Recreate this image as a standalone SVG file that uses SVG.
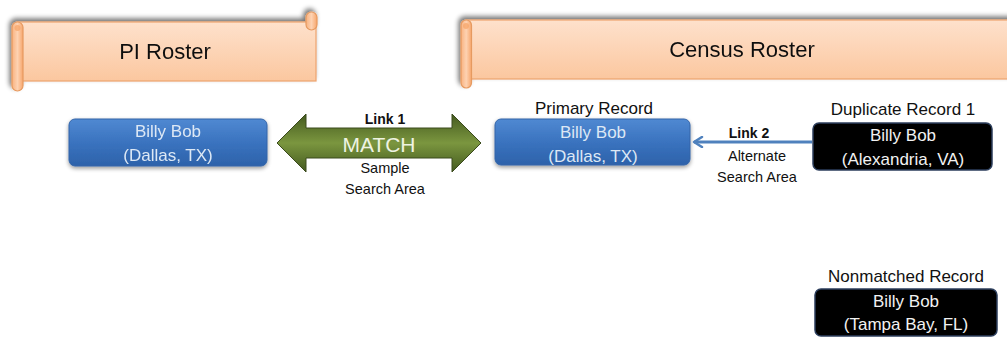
<svg xmlns="http://www.w3.org/2000/svg" width="1007" height="337" viewBox="0 0 1007 337">
<defs>
<linearGradient id="peach" x1="0" y1="0" x2="0" y2="1">
<stop offset="0" stop-color="#fee1cc"/>
<stop offset="1" stop-color="#fbc79f"/>
</linearGradient>
<linearGradient id="curl" x1="0" y1="0" x2="1" y2="0">
<stop offset="0" stop-color="#f9b27f"/>
<stop offset="0.5" stop-color="#fdd2b2"/>
<stop offset="1" stop-color="#f7a66c"/>
</linearGradient>
<linearGradient id="blue" x1="0" y1="0" x2="0" y2="1">
<stop offset="0" stop-color="#5089d2"/>
<stop offset="0.5" stop-color="#3a73bf"/>
<stop offset="1" stop-color="#2d62aa"/>
</linearGradient>
<linearGradient id="green" x1="0" y1="0" x2="0" y2="1">
<stop offset="0" stop-color="#445a1f"/>
<stop offset="0.5" stop-color="#7b963f"/>
<stop offset="1" stop-color="#445a1f"/>
</linearGradient>
<filter id="sh" x="-10%" y="-30%" width="120%" height="160%">
<feGaussianBlur in="SourceAlpha" stdDeviation="2.5"/>
<feOffset dx="-2" dy="-3" result="b"/>
<feComponentTransfer><feFuncA type="linear" slope="0.55"/></feComponentTransfer>
<feMerge><feMergeNode/><feMergeNode in="SourceGraphic"/></feMerge>
</filter>
<filter id="bs" x="-10%" y="-20%" width="120%" height="150%">
<feGaussianBlur in="SourceAlpha" stdDeviation="2"/>
<feOffset dx="0" dy="2"/>
<feComponentTransfer><feFuncA type="linear" slope="0.4"/></feComponentTransfer>
<feMerge><feMergeNode/><feMergeNode in="SourceGraphic"/></feMerge>
</filter>
<marker id="chev" viewBox="0 0 12 12" refX="10" refY="6" markerWidth="12" markerHeight="12" markerUnits="userSpaceOnUse" orient="auto">
<path d="M2,1 L10,6 L2,11" fill="none" stroke="#4f81bd" stroke-width="2.5" stroke-linecap="round" stroke-linejoin="round"/>
</marker>
</defs>
<style>
text{font-family:"Liberation Sans",Arial,sans-serif;text-anchor:middle}
.title{font-size:22px;fill:#111}
.band{fill:url(#peach);stroke:#eda46f;stroke-width:1.2}
.curl{fill:url(#curl);stroke:#e69a60;stroke-width:1.2}
.bbox{fill:url(#blue);stroke:#3465a8;stroke-width:1}
.kbox{fill:#000;stroke:#2c3e5c;stroke-width:1.5}
.bt{font-size:17px;fill:#dde8f5}
.kt{font-size:17px;fill:#f2f2f2}
.lab{font-size:17px;fill:#111}
.sm{font-size:14.5px;fill:#111}
.lk{font-size:14px;font-weight:bold;fill:#111}
</style>

<g id="pi-roster" filter="url(#sh)">
<rect class="band" x="17" y="22" width="299" height="59"/>
<rect class="curl" x="306" y="12" width="11" height="18" rx="5.5"/>
<rect class="curl" x="12" y="22" width="11" height="69" rx="5.5"/>
<circle cx="17.5" cy="28" r="3" fill="#f6a467" opacity="0.7"/>
<text class="title" x="165" y="59">PI Roster</text>
</g>

<g id="census-roster" filter="url(#sh)">
<rect class="band" x="466" y="20" width="550" height="59"/>
<rect class="curl" x="461" y="20" width="10.5" height="68" rx="5.2"/>
<circle cx="466" cy="26" r="3" fill="#f6a467" opacity="0.7"/>
<text class="title" x="742" y="57">Census Roster</text>
</g>

<g id="pi-record" filter="url(#bs)">
<rect class="bbox" x="69" y="119" width="198" height="47" rx="6"/>
<text class="bt" x="168" y="137">Billy Bob</text>
<text class="bt" x="168" y="161">(Dallas, TX)</text>
</g>

<g id="primary-record">
<text class="lab" x="594" y="114">Primary Record</text>
<g filter="url(#bs)">
<rect class="bbox" x="495" y="119" width="195" height="46" rx="6"/>
</g>
<text class="bt" x="593" y="138">Billy Bob</text>
<text class="bt" x="593" y="162">(Dallas, TX)</text>
</g>

<g id="duplicate-record">
<text class="lab" x="903" y="115">Duplicate Record 1</text>
<rect class="kbox" x="813" y="123" width="179" height="47" rx="6"/>
<text class="kt" x="903" y="141">Billy Bob</text>
<text class="kt" x="903" y="165">(Alexandria, VA)</text>
</g>

<g id="nonmatched-record">
<text class="lab" x="906" y="282">Nonmatched Record</text>
<rect class="kbox" x="815" y="289" width="182" height="47" rx="6"/>
<text class="kt" x="906" y="307">Billy Bob</text>
<text class="kt" x="906" y="330">(Tampa Bay, FL)</text>
</g>

<g id="connectors">
<g id="link1">
<polygon points="277,143 306,114 306,128 452,128 452,114 481,143 452,172 452,158 306,158 306,172" fill="url(#green)" stroke="#3a4a1c" stroke-width="1"/>
<text class="lk" x="385" y="124">Link 1</text>
<text x="379" y="152" style="font-size:21px;fill:#eef3e2">MATCH</text>
<text class="sm" x="385" y="173">Sample</text>
<text class="sm" x="385" y="194">Search Area</text>
</g>
<g id="link2">
<line x1="812" y1="142" x2="694" y2="142" stroke="#4f81bd" stroke-width="2.8" marker-end="url(#chev)"/>
<text class="lk" x="749" y="138">Link 2</text>
<text class="sm" x="757" y="161">Alternate</text>
<text class="sm" x="757" y="182">Search Area</text>
</g>
</g>
</svg>
